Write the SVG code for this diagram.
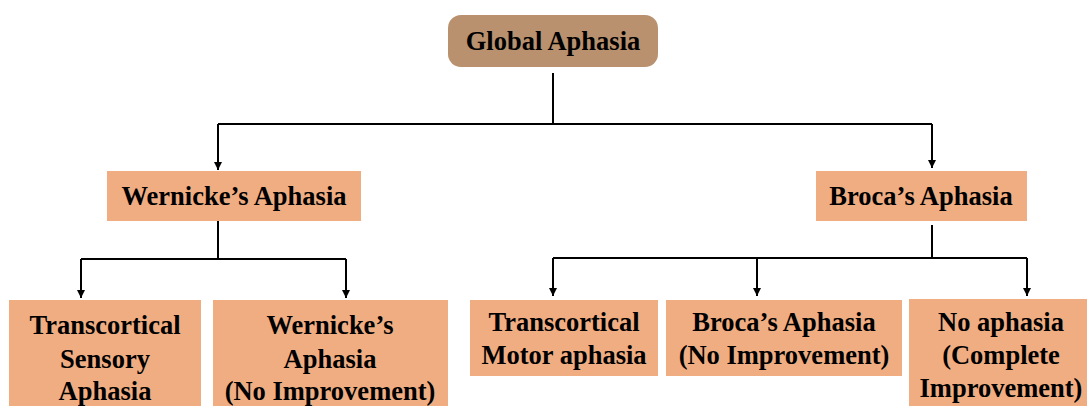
<svg xmlns="http://www.w3.org/2000/svg" width="1087" height="406" viewBox="0 0 1087 406">
<style>
.box{fill:#F0AD82;}
.root{fill:#B9916E;}
.t{font-family:"Liberation Serif","Times New Roman",serif;font-weight:bold;font-size:26.5px;fill:#000;text-anchor:middle;}
.c{stroke:#000;stroke-width:2;fill:none;}
</style>
<defs>
<marker id="ah" viewBox="0 0 10 10" refX="10" refY="5" markerWidth="8" markerHeight="8" markerUnits="userSpaceOnUse" orient="auto">
<path d="M0,0 L10,5 L0,10 z" fill="#000"/>
</marker>
</defs>
<rect width="1087" height="406" fill="#fff"/>
<g id="connectors">
<path class="c" d="M553,73 V124 M218,124 H932"/>
<path class="c" d="M218,124 V170" marker-end="url(#ah)"/>
<path class="c" d="M932,124 V168" marker-end="url(#ah)"/>
<path class="c" d="M218,221 V259 M81,259 H346"/>
<path class="c" d="M81,259 V298" marker-end="url(#ah)"/>
<path class="c" d="M346,259 V298" marker-end="url(#ah)"/>
<path class="c" d="M932,225 V258 M553,258 H1027"/>
<path class="c" d="M553,258 V296" marker-end="url(#ah)"/>
<path class="c" d="M757,258 V296" marker-end="url(#ah)"/>
<path class="c" d="M1027,258 V296" marker-end="url(#ah)"/>
</g>
<g id="global">
<rect class="root" x="448" y="15" width="210" height="52" rx="13"/>
<text class="t" x="553" y="50">Global Aphasia</text>
</g>
<g id="wernicke">
<rect class="box" x="107" y="171" width="254" height="50"/>
<text class="t" x="234" y="205">Wernicke’s Aphasia</text>
</g>
<g id="broca">
<rect class="box" x="816" y="171" width="211" height="50"/>
<text class="t" x="921" y="205">Broca’s Aphasia</text>
</g>
<g id="tsa">
<rect class="box" x="9" y="300" width="192" height="110"/>
<text class="t" x="105" y="334">Transcortical</text>
<text class="t" x="105" y="368">Sensory</text>
<text class="t" x="105" y="400">Aphasia</text>
</g>
<g id="wernicke-ni">
<rect class="box" x="213" y="300" width="235" height="110"/>
<text class="t" x="330" y="334">Wernicke’s</text>
<text class="t" x="330" y="368">Aphasia</text>
<text class="t" x="330" y="400">(No Improvement)</text>
</g>
<g id="tma">
<rect class="box" x="470" y="300" width="188" height="76"/>
<text class="t" x="564" y="331">Transcortical</text>
<text class="t" x="564" y="364">Motor aphasia</text>
</g>
<g id="broca-ni">
<rect class="box" x="666" y="300" width="236" height="76"/>
<text class="t" x="784" y="331">Broca’s Aphasia</text>
<text class="t" x="784" y="364">(No Improvement)</text>
</g>
<g id="no-aphasia">
<rect class="box" x="909" y="299" width="183" height="111"/>
<text class="t" x="1001" y="331">No aphasia</text>
<text class="t" x="1001" y="364">(Complete</text>
<text class="t" x="1001" y="397">Improvement)</text>
</g>
</svg>
